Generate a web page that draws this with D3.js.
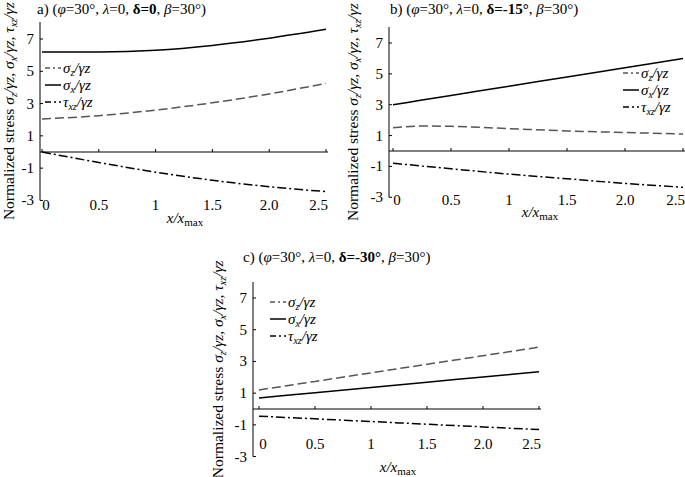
<!DOCTYPE html><html><head><meta charset="utf-8"><script src="https://cdn.jsdelivr.net/npm/d3@7"></script>
<style>body{margin:0;background:#fff}svg text{font-family:"Liberation Serif","Times New Roman","DejaVu Serif",serif;fill:#000}</style></head><body>
<svg id="c" width="685" height="477"></svg>
<script>
const xs=[0,0.5,1,1.5,2,2.5];
const xTicks=[0,0.5,1,1.5,2,2.5];
const xTickLabels=["0","0.5","1","1.5","2.0","2.5"];
const yTicks=[7,5,3,1,-1,-3];
const aSz=[2.05,2.25,2.6,3.05,3.6,4.25], aSx=[6.2,6.2,6.3,6.6,7.05,7.6], aTxz=[0,-0.65,-1.25,-1.75,-2.15,-2.45];
const bX=[0,0.25,0.5,1,1.5,2,2.5];
const bSz=[1.5,1.62,1.6,1.45,1.3,1.2,1.1], bSx=[3.0,3.3,3.6,4.2,4.8,5.4,6.0], bTxz=[-0.8,-0.97,-1.15,-1.5,-1.8,-2.1,-2.35];
const cSz=[1.2,1.74,2.28,2.82,3.36,3.9], cSx=[0.7,1.03,1.36,1.69,2.02,2.35], cTxz=[-0.45,-0.62,-0.79,-0.96,-1.13,-1.3];
const panels=[
 {t:["a) (","φ","=30°, ","λ","=0, ","δ=0",", ","β","=30°)"],tx:37,ty:14,ax:40,x0:42,x1:326,yTop:22,y7:39,y0:152,xEnd:328,xs:xs,sz:aSz,sx:aSx,tz:aTxz,lx:45,ly:68,yl:14,xl:185,xly:223,tly:210},
 {t:["b) (","φ","=30°, ","λ","=0, ","δ=-15°",", ","β","=30°)"],tx:390,ty:14,ax:389,x0:393,x1:683,yTop:27,y7:43,y0:151,xEnd:685,xs:bX,sz:bSz,sx:bSx,tz:bTxz,lx:623,ly:73,yl:358,xl:540,xly:217,tly:205},
 {t:["c) (","φ","=30°, ","λ","=0, ","δ=-30°",", ","β","=30°)"],tx:243,ty:262,ax:253,x0:259,x1:539,yTop:282,y7:298,y0:409,xEnd:541,xs:xs,sz:cSz,sx:cSx,tz:cTxz,lx:270,ly:302,yl:223,xl:398,xly:472,tly:449}
];
const svg=d3.select("#c");
const styles={sz:{c:"#555",d:"9,4"},sx:{c:"#000",d:null},tz:{c:"#000",d:"9,3,2,3"}};
panels.forEach(p=>{
 const g=svg.append("g");
 const x=d3.scaleLinear().domain([0,2.5]).range([p.x0,p.x1]);
 const y=d3.scaleLinear().domain([0,7]).range([p.y0,p.y7]);
 const yBot=y(-3);
 const t=g.append("text").attr("x",p.tx).attr("y",p.ty).attr("font-size",15);
 p.t.forEach((s,i)=>{const sp=t.append("tspan").text(s);
   if(i==1||i==3||i==7)sp.attr("font-style","italic");
   if(i==5)sp.attr("font-weight","bold");});
 g.append("line").attr("x1",p.ax).attr("x2",p.ax).attr("y1",p.yTop).attr("y2",yBot).attr("stroke","#000");
 yTicks.forEach(v=>{g.append("line").attr("x1",p.ax).attr("x2",p.ax+3).attr("y1",y(v)).attr("y2",y(v)).attr("stroke","#000");
   g.append("text").attr("x",p.ax-6).attr("y",y(v)+5).attr("text-anchor","end").attr("font-size",15).text(v);});
 g.append("line").attr("x1",p.ax).attr("x2",p.xEnd).attr("y1",y(0)).attr("y2",y(0)).attr("stroke","#000");
 xTicks.forEach((v,i)=>{g.append("line").attr("x1",x(v)).attr("x2",x(v)).attr("y1",y(0)).attr("y2",y(0)-3).attr("stroke","#000");
   g.append("text").attr("x",x(v)).attr("y",p.tly).attr("text-anchor",i==5?"end":"middle").attr("dx",i==0?4:(i==5?2:0)).attr("font-size",15).text(xTickLabels[i]);});
 const xl=g.append("text").attr("x",p.xl).attr("y",p.xly).attr("text-anchor","middle").attr("font-size",15);
 xl.append("tspan").attr("font-style","italic").text("x/x");xl.append("tspan").attr("font-size",11).attr("dy",3).text("max");
 const yc=(p.yTop+yBot)/2;
 const yl=g.append("text").attr("transform",`translate(${p.yl},${yc}) rotate(-90)`).attr("text-anchor","middle").attr("font-size",15.5);
 const parts=[["Normalized stress ",0],["σ",1],["z",2],["/γz, ",3],["σ",1],["x",2],["/γz, ",3],["τ",1],["xz",2],["/γz",3]];
 parts.forEach(([s,k])=>{const sp=yl.append("tspan").text(s);if(k>=1)sp.attr("font-style","italic");if(k==2)sp.attr("font-size",10).attr("dy",3);else if(k==3)sp.attr("dy",-3);});
 const line=d3.line().x((d,i)=>x(p.xs[i])).y(d=>y(d)).curve(d3.curveMonotoneX);
 [["sz",p.sz],["sx",p.sx],["tz",p.tz]].forEach(([k,arr])=>{
   g.append("path").attr("d",line(arr)).attr("fill","none").attr("stroke",styles[k].c).attr("stroke-width",1.5).attr("stroke-dasharray",styles[k].d);});
 const labs=[["sz","σ","z"],["sx","σ","x"],["tz","τ","xz"]];
 labs.forEach(([k,s,sub],i)=>{const ly=p.ly+i*17;
   g.append("line").attr("x1",p.lx).attr("x2",p.lx+16).attr("y1",ly).attr("y2",ly).attr("stroke",styles[k].c).attr("stroke-width",1.5).attr("stroke-dasharray",k=="sz"?"5,3,2,3":(k=="tz"?"6,3,2,3":null));
   const tt=g.append("text").attr("x",p.lx+18).attr("y",ly+5).attr("font-size",15).attr("font-style","italic");
   tt.append("tspan").text(s);tt.append("tspan").attr("font-size",10).attr("dy",3).text(sub);tt.append("tspan").attr("dy",-3).text("/γz");});
});
</script></body></html>
